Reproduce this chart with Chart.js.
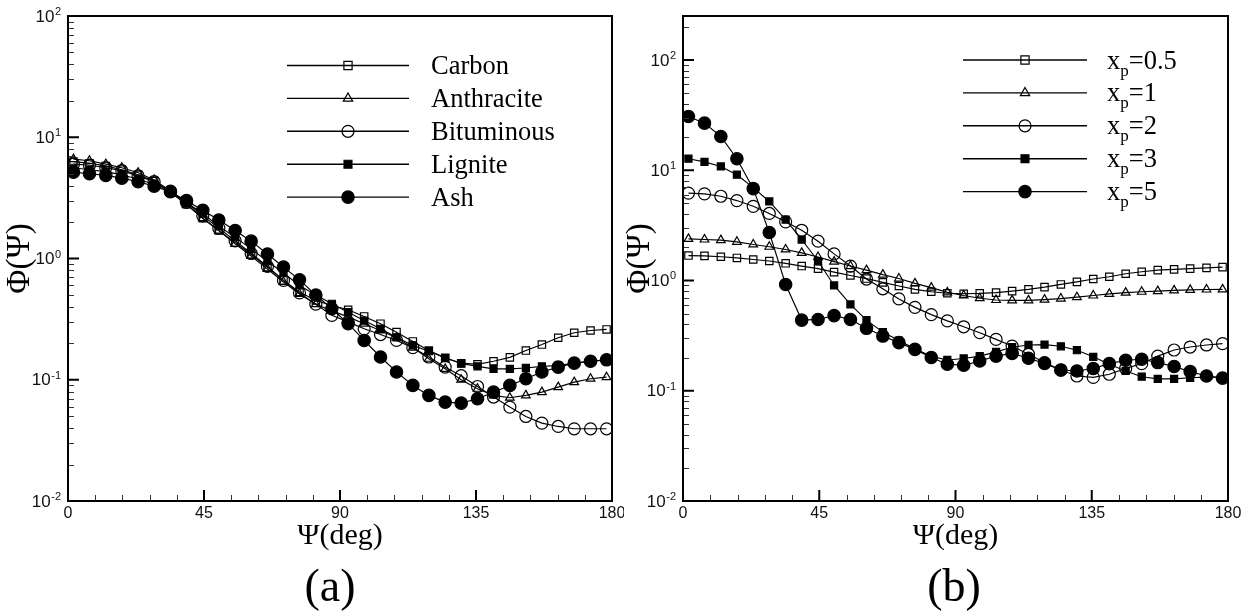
<!DOCTYPE html>
<html>
<head>
<meta charset="utf-8">
<script src="https://cdn.jsdelivr.net/npm/chart.js@4.4.1/dist/chart.umd.min.js"></script>
<style>
  body { margin: 0; background: #fff; }
  #wrap { position: relative; width: 1248px; height: 614px; }
  canvas { position: absolute; top: 0; }
  #chartA { left: 0; }
  #chartB { left: 624px; }
</style>
</head>
<body>
<div id="wrap">
  <canvas id="chartA" width="624" height="614"></canvas>
  <canvas id="chartB" width="624" height="614"></canvas>
</div>
<script>
// scattering angle of every sample (deg)
let angles = [1.8, 7.1, 12.5, 17.8, 23.2, 28.5, 33.9, 39.2, 44.6, 49.9, 55.3, 60.6, 66.0, 71.3, 76.6, 82.0, 87.3,
  92.7, 98.0, 103.4, 108.7, 114.1, 119.4, 124.8, 130.1, 135.5, 140.8, 146.2, 151.5, 156.8, 162.2, 167.5, 172.9, 178.2];

// (a) phase function per particle material
let carbon = [6.3, 6.1, 5.8, 5.4, 4.9, 4.35, 3.5, 2.8, 2.15, 1.7, 1.35, 1.08, 0.85, 0.66, 0.53, 0.45, 0.41,
  0.378, 0.333, 0.29, 0.247, 0.207, 0.174, 0.152, 0.137, 0.134, 0.142, 0.153, 0.174, 0.195, 0.222, 0.244, 0.255, 0.26];
let anthracite = [6.6, 6.4, 6.0, 5.6, 5.1, 4.45, 3.6, 2.8, 2.15, 1.7, 1.32, 1.05, 0.82, 0.64, 0.51, 0.42, 0.37,
  0.33, 0.29, 0.255, 0.222, 0.184, 0.149, 0.123, 0.100, 0.0843, 0.0743, 0.0711, 0.0743, 0.079, 0.0869, 0.0955, 0.102, 0.105];
let bituminous = [6.0, 5.9, 5.6, 5.3, 4.8, 4.3, 3.6, 2.9, 2.25, 1.78, 1.4, 1.1, 0.86, 0.66, 0.52, 0.42, 0.34,
  0.3, 0.263, 0.236, 0.211, 0.184, 0.154, 0.127, 0.108, 0.088, 0.072, 0.0595, 0.0498, 0.0439, 0.0412, 0.0394, 0.0394, 0.0394];
let lignite = [5.6, 5.4, 5.2, 4.9, 4.5, 4.1, 3.5, 2.9, 2.35, 1.85, 1.5, 1.2, 0.95, 0.76, 0.6, 0.5, 0.423,
  0.361, 0.308, 0.263, 0.224, 0.192, 0.172, 0.151, 0.136, 0.129, 0.123, 0.123, 0.125, 0.129, 0.131, 0.137, 0.142, 0.146];
let ash = [5.15, 5.0, 4.85, 4.6, 4.3, 3.95, 3.55, 3.0, 2.5, 2.08, 1.7, 1.39, 1.09, 0.85, 0.667, 0.5, 0.385,
  0.29, 0.211, 0.154, 0.116, 0.0898, 0.0743, 0.0654, 0.0641, 0.0697, 0.079, 0.0898, 0.102, 0.116, 0.127, 0.137, 0.142, 0.146];
let namesA = ["Carbon", "Anthracite", "Bituminous", "Lignite", "Ash"];

// (b) phase function per size parameter x_p
let xp05 = [1.68, 1.67, 1.64, 1.60, 1.55, 1.50, 1.43, 1.35, 1.28, 1.19, 1.11, 1.04, 0.96, 0.89, 0.83, 0.79, 0.765,
  0.758, 0.763, 0.775, 0.80, 0.83, 0.87, 0.92, 0.97, 1.03, 1.08, 1.15, 1.20, 1.24, 1.26, 1.28, 1.30, 1.32];
let xp1 = [2.38, 2.35, 2.32, 2.24, 2.12, 2.02, 1.91, 1.78, 1.63, 1.48, 1.35, 1.24, 1.13, 1.04, 0.94, 0.86, 0.78,
  0.73, 0.69, 0.665, 0.66, 0.66, 0.67, 0.685, 0.705, 0.73, 0.755, 0.775, 0.79, 0.80, 0.812, 0.822, 0.828, 0.83];
let xp2 = [6.2, 6.1, 5.8, 5.3, 4.7, 4.05, 3.4, 2.85, 2.27, 1.74, 1.35, 1.03, 0.84, 0.68, 0.57, 0.49, 0.43,
  0.38, 0.336, 0.292, 0.254, 0.214, 0.18, 0.154, 0.136, 0.132, 0.141, 0.159, 0.176, 0.206, 0.234, 0.249, 0.26, 0.267];
let xp3 = [12.7, 11.9, 10.8, 9.1, 6.95, 5.2, 3.56, 2.35, 1.50, 0.90, 0.606, 0.437, 0.34, 0.285, 0.24, 0.205, 0.19,
  0.196, 0.206, 0.225, 0.248, 0.26, 0.262, 0.253, 0.233, 0.203, 0.174, 0.151, 0.134, 0.128, 0.128, 0.131, 0.133, 0.133];
let xp5 = [30.7, 26.7, 20.2, 12.7, 6.8, 2.72, 0.92, 0.437, 0.443, 0.48, 0.443, 0.368, 0.313, 0.273, 0.237, 0.2, 0.174,
  0.170, 0.186, 0.206, 0.218, 0.197, 0.177, 0.154, 0.151, 0.159, 0.176, 0.189, 0.193, 0.180, 0.166, 0.149, 0.136, 0.130];
let namesB = ["0.5", "1", "2", "3", "5"];

let xTicks = [0, 45, 90, 135, 180];
let yTicks = [0.01, 0.1, 1, 10, 100];
let yExps = ["-2", "-1", "0", "1", "2"];

const SERIF = "'Liberation Serif', 'Times New Roman', serif";
const SANS = "'Liberation Sans', Arial, sans-serif";

// marker look, same order for both panels
const marks = [
  { style: "rect", r: 5.2, filled: false },
  { style: "triangle", r: 5.0, filled: false },
  { style: "circle", r: 6.0, filled: false },
  { style: "rect", r: 5.0, filled: true },
  { style: "circle", r: 6.2, filled: true },
];

// legend markers
const keyMarks = [
  { style: "rect", r: 5.8, filled: false },
  { style: "triangle", r: 5.4, filled: false },
  { style: "circle", r: 6.0, filled: false },
  { style: "rect", r: 5.6, filled: true },
  { style: "circle", r: 6.2, filled: true },
];

function drawMark(ctx, m, x, y) {
  ctx.fillStyle = "#000";
  ctx.strokeStyle = "#000";
  ctx.lineWidth = 1.2;
  ctx.beginPath();
  if (m.style == "circle") {
    ctx.arc(x, y, m.r, 0, Math.PI * 2);
  } else if (m.style == "rect") {
    let s = m.r * Math.SQRT1_2;
    ctx.rect(x - s, y - s, 2 * s, 2 * s);
  } else {
    ctx.moveTo(x, y - m.r);
    ctx.lineTo(x + m.r * 0.866, y + m.r * 0.5);
    ctx.lineTo(x - m.r * 0.866, y + m.r * 0.5);
    ctx.closePath();
  }
  if (m.filled) ctx.fill();
  ctx.stroke();
}

// inward ticks, frame, 10^n labels and panel tag
const frame = {
  id: "frame",
  afterDatasetsDraw(chart, args, opts) {
    let ctx = chart.ctx;
    let a = chart.chartArea;
    let x = chart.scales.x;
    let y = chart.scales.y;
    ctx.save();

    ctx.strokeStyle = "#333";
    ctx.lineWidth = 1;
    ctx.beginPath();
    for (let d = -2; d <= 2; d++) {
      for (let m = 2; m <= 9; m++) {
        let v = m * Math.pow(10, d);
        if (v >= y.max) continue;
        let py = Math.round(y.getPixelForValue(v)) + 0.5;
        ctx.moveTo(a.left, py);
        ctx.lineTo(a.left + 6, py);
      }
    }
    for (let v = 9; v < 180; v += 9) {
      if (v % 45 == 0) continue;
      let px = Math.round(x.getPixelForValue(v)) + 0.5;
      ctx.moveTo(px, a.bottom);
      ctx.lineTo(px, a.bottom - 6);
    }
    ctx.stroke();

    ctx.strokeStyle = "#000";
    ctx.lineWidth = 2;
    ctx.beginPath();
    yTicks.forEach((v) => {
      let py = y.getPixelForValue(v);
      ctx.moveTo(a.left, py);
      ctx.lineTo(a.left + 11, py);
    });
    xTicks.forEach((v) => {
      let px = x.getPixelForValue(v);
      ctx.moveTo(px, a.bottom);
      ctx.lineTo(px, a.bottom - 11);
    });
    ctx.stroke();
    ctx.strokeRect(a.left, a.top, a.right - a.left, a.bottom - a.top);

    ctx.fillStyle = "#111";
    ctx.textAlign = "right";
    ctx.textBaseline = "middle";
    let right = a.left - 7;
    yTicks.forEach((v, i) => {
      let py = y.getPixelForValue(v);
      ctx.font = "11px " + SANS;
      let ew = ctx.measureText(yExps[i]).width;
      ctx.fillText(yExps[i], right, py - 4);
      ctx.font = "17px " + SANS;
      ctx.fillText("10", right - ew - 0.5, py + 1);
    });

    ctx.fillStyle = "#000";
    ctx.textAlign = "center";
    ctx.font = "46px " + SERIF;
    ctx.fillText(opts.tag, opts.tagX, 589);
    ctx.restore();
  },
};

// legend drawn inside the plot: line, marker in the middle, text
const keyBox = {
  id: "keyBox",
  afterDraw(chart, args, o) {
    let ctx = chart.ctx;
    ctx.save();
    chart.data.datasets.forEach((ds, i) => {
      let yy = o.y0 + i * o.dy;
      ctx.strokeStyle = "#000";
      ctx.lineWidth = 1.4;
      ctx.beginPath();
      ctx.moveTo(o.x1, yy);
      ctx.lineTo(o.x2, yy);
      ctx.stroke();
      drawMark(ctx, keyMarks[i], o.xm, yy);

      ctx.fillStyle = "#000";
      ctx.textAlign = "left";
      ctx.textBaseline = "alphabetic";
      ctx.font = "26.5px " + SERIF;
      if (!o.sub) {
        ctx.fillText(o.names[i], o.xt, yy + 8.5);
      } else {
        let tx = o.xt;
        ctx.fillText("x", tx, yy + 8.5);
        tx += ctx.measureText("x").width;
        ctx.font = "17px " + SERIF;
        ctx.fillText("p", tx, yy + 15.5);
        tx += ctx.measureText("p").width;
        ctx.font = "26.5px " + SERIF;
        ctx.fillText("=" + o.names[i], tx, yy + 8.5);
      }
    });
    ctx.restore();
  },
};

function makeChart(id, series, labels, cfg) {
  let datasets = series.map((s, i) => ({
    label: labels[i],
    data: angles.map((a, k) => ({ x: a, y: s[k] })),
    borderColor: "#000",
    borderWidth: 1.15,
    tension: 0,
    fill: false,
    pointStyle: marks[i].style,
    pointRadius: marks[i].r,
    pointBorderWidth: 1.2,
    pointBorderColor: "#000",
    pointBackgroundColor: marks[i].filled ? "#000" : "rgba(0,0,0,0)",
  }));

  return new Chart(document.getElementById(id), {
    type: "line",
    data: { datasets: datasets },
    plugins: [frame, keyBox],
    options: {
      responsive: false,
      animation: false,
      devicePixelRatio: 1,
      events: [],
      layout: { padding: { top: 16, right: cfg.padRight, bottom: 0, left: 0 } },
      plugins: {
        legend: { display: false },
        tooltip: { enabled: false },
        frame: { tag: cfg.tag, tagX: 330 },
        keyBox: cfg.key,
      },
      scales: {
        x: {
          type: "linear",
          min: 0,
          max: 180,
          afterBuildTicks: (s) => {
            s.ticks = xTicks.map((v) => ({ value: v }));
          },
          afterFit: (s) => {
            s.height = 113;
            s.paddingLeft = 0;
            s.paddingRight = 0;
          },
          grid: { display: false, drawTicks: false },
          border: { display: false },
          ticks: { padding: 3, color: "#111", font: { family: SANS, size: 16 } },
          title: {
            display: true,
            text: "Ψ(deg)",
            color: "#000",
            font: { family: SERIF, size: 30 },
            padding: { top: 0, bottom: 60 },
          },
        },
        y: {
          type: "logarithmic",
          min: 0.01,
          max: cfg.yMax,
          afterFit: (s) => {
            s.width = cfg.yWidth;
            s.paddingTop = 0;
            s.paddingBottom = 0;
          },
          grid: { display: false, drawTicks: false },
          border: { display: false },
          ticks: { display: false },
          title: {
            display: true,
            text: "Φ(Ψ)",
            color: "#000",
            font: { family: SERIF, size: 33 },
            padding: { top: cfg.titlePad, bottom: 0 },
          },
        },
      },
    },
  });
}

makeChart("chartA", [carbon, anthracite, bituminous, lignite, ash], namesA, {
  tag: "(a)",
  yMax: 100,
  yWidth: 68,
  padRight: 12,
  titlePad: 1,
  key: { names: namesA, sub: false, x1: 287, x2: 409, xm: 348, xt: 431, y0: 65.5, dy: 32.9 },
});

makeChart("chartB", [xp05, xp1, xp2, xp3, xp5], namesB.map((n) => "x_p=" + n), {
  tag: "(b)",
  yMax: 250,
  yWidth: 59,
  padRight: 20,
  titlePad: -3,
  key: { names: namesB, sub: true, x1: 339, x2: 463, xm: 401, xt: 483, y0: 60, dy: 32.9 },
});
</script>
</body>
</html>
